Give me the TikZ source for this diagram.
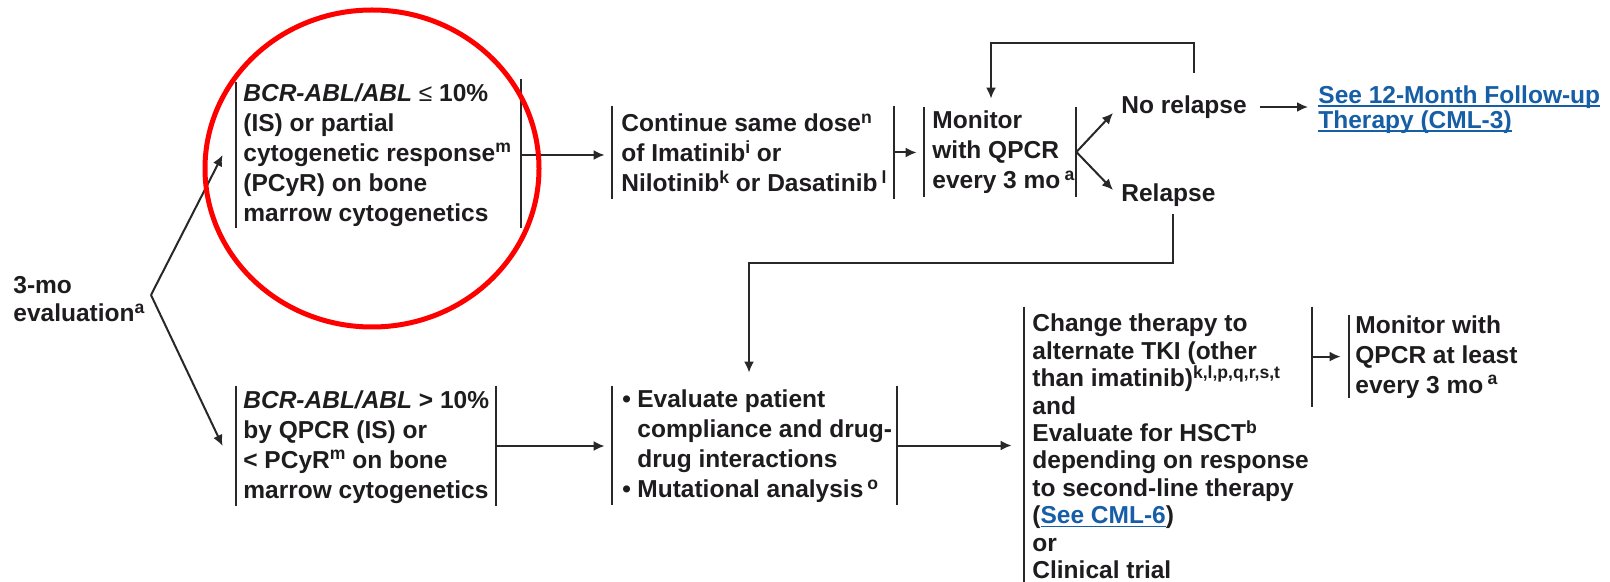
\documentclass[tikz,border=0pt]{standalone}
\usepackage{fontspec}
\setmainfont{Liberation Sans}
\usetikzlibrary{arrows.meta,fit}
\definecolor{tc}{RGB}{30,28,30}
\definecolor{lc}{RGB}{40,40,40}
\definecolor{lk}{RGB}{22,94,166}
\newcommand{\mylink}[1]{\setbox0=\hbox{{\color{lk}#1}}\rlap{{\color{lk}\rule[-1.8pt]{\wd0}{0.8pt}}}\box0}
\newcommand{\supx}[1]{\raisebox{4.2pt}{\fontsize{8.8}{8.8}\selectfont #1}}
\newcommand{\bul}{\makebox[7.5pt][l]{•}}
\begin{document}
\begin{tikzpicture}[x=0.5pt,y=-0.5pt,
  txt/.style={font=\fontsize{12.25}{15}\selectfont\bfseries, align=left, inner sep=0, text=tc},
  frame/.style={inner sep=0, draw=none},
  bar/.style={draw=lc, line width=1pt},
  con/.style={draw=lc, line width=1pt},
  arr/.style={con, -{Latex[length=5.5pt,width=5pt]}}]
\fill[white] (0,0) rectangle (1610,582);
\useasboundingbox (0,0) rectangle (1610,582);

% frames
\node[frame, fit={(236,82) (521,228)}] (A) {};
\node[frame, fit={(236,386) (496,506)}] (B) {};
\node[frame, fit={(612,106) (894,199)}] (C) {};
\node[frame, fit={(924,107) (1076,197)}] (M) {};
\node[frame, fit={(612,386) (897,505)}] (V) {};
\node[frame, fit={(1024,307) (1312,582)}] (H) {};
\node[frame, fit={(1349,315) (1545,398)}] (N) {};

% bars
\draw[bar] (A.north west) -- (A.south west) ([yshift=1.5pt]A.north east) -- (A.south east);
\draw[bar] (B.north west) -- (B.south west) (B.north east) -- (B.south east);
\draw[bar] (C.north west) -- (C.south west) (C.north east) -- (C.south east);
\draw[bar] (M.north west) -- (M.south west) (M.north east) -- (M.south east);
\draw[bar] (V.north west) -- (V.south west) (V.north east) -- (V.south east);
\draw[bar] (H.north west) -- (H.south west) (H.north east) -- ([yshift=-50pt]H.north east);
\draw[bar] (N.north west) -- (N.south west);

% texts
\node[txt, font=\fontsize{12.25}{14}\selectfont\bfseries, anchor=west] (E) at (13,299) {3-mo\\evaluation\supx{a}};
\node[txt, anchor=west] (At) at (243,155) {\textit{BCR-ABL/ABL} {\mdseries ≤} 10\%\\(IS) or partial\\cytogenetic response\supx{m}\\(PCyR) on bone\\marrow cytogenetics};
\node[txt, anchor=west] (Bt) at (243,447) {\textit{BCR-ABL/ABL} > 10\%\\by QPCR (IS) or\\< PCyR\supx{m} on bone\\marrow cytogenetics};
\node[txt, anchor=west] (Ct) at (621,153) {Continue same dose\supx{n}\\of Imatinib\supx{i} or\\Nilotinib\supx{k} or Dasatinib\,\supx{l}};
\node[txt, anchor=west] (Mt) at (932,152.5) {Monitor\\with QPCR\\every 3 mo\,\supx{a}};
\node[txt, anchor=west] (Vt) at (622,446.5) {\bul Evaluate patient\\\hphantom{\bul}compliance and drug-\\\hphantom{\bul}drug interactions\\\bul Mutational analysis\,\supx{o}};
\node[txt, font=\fontsize{12.25}{13.7}\selectfont\bfseries, anchor=west] (Ht) at (1032,446.5) {Change therapy to\\alternate TKI (other\\than imatinib)\supx{k,l,p,q,r,s,t}\\and\\Evaluate for HSCT\supx{b}\\depending on response\\to second-line therapy\\(\mylink{See CML-6})\\or\\Clinical trial};
\node[txt, anchor=west] (Nt) at (1355,357) {Monitor with\\QPCR at least\\every 3 mo\,\supx{a}};
\node[txt, anchor=west] (NR) at (1121,107) {No relapse};
\node[txt, anchor=west] (Rel) at (1121,195) {Relapse};
\node[txt, font=\fontsize{12.25}{12.5}\selectfont\bfseries, anchor=west] (S) at (1318,109.5) {\mylink{See 12-Month Follow-up}\\\mylink{Therapy (CML-3)}};

% connectors
\coordinate (fork) at (151,295);
\draw[arr] (fork) -- ([xshift=-6.5pt]A.west);
\draw[arr] (fork) -- ([xshift=-6.5pt]B.west);
\draw[arr, shorten >=3.5pt] (A.east) -- (A.east -| C.west);
\draw[arr, shorten >=3.5pt] (C.east) -- (C.east -| M.west);
\draw[arr] (M.east) -- ([shift={(-4pt,-3pt)}]NR.west);
\draw[arr] (M.east) -- ([shift={(-4pt,2.5pt)}]Rel.west);
\draw[arr, shorten <=6.5pt, shorten >=5pt] (NR.east) -- (NR.east -| S.west);
\coordinate (looptop) at (991,43);
\draw[arr, shorten >=4pt] ([shift={(5pt,11pt)}]NR.north) |- (looptop) -- (looptop |- M.north);
\coordinate (relc) at (749,263);
\draw[arr, shorten <=3.5pt, shorten >=6.5pt] ([xshift=2.5pt]Rel.south) |- (relc) -- (relc |- V.north);
\draw[arr, shorten >=3.5pt] (B.east) -- (B.east -| V.west);
\draw[arr, shorten >=6pt] (V.east) -- (V.east -| H.west);
\coordinate (hout) at ([yshift=-25pt]H.north east);
\draw[arr, shorten >=4pt] (hout) -- (hout -| N.west);

% highlight circle
\draw[red, line width=2.5pt] (372,168.5) ellipse [x radius=167, y radius=158.5];
\end{tikzpicture}
\end{document}
